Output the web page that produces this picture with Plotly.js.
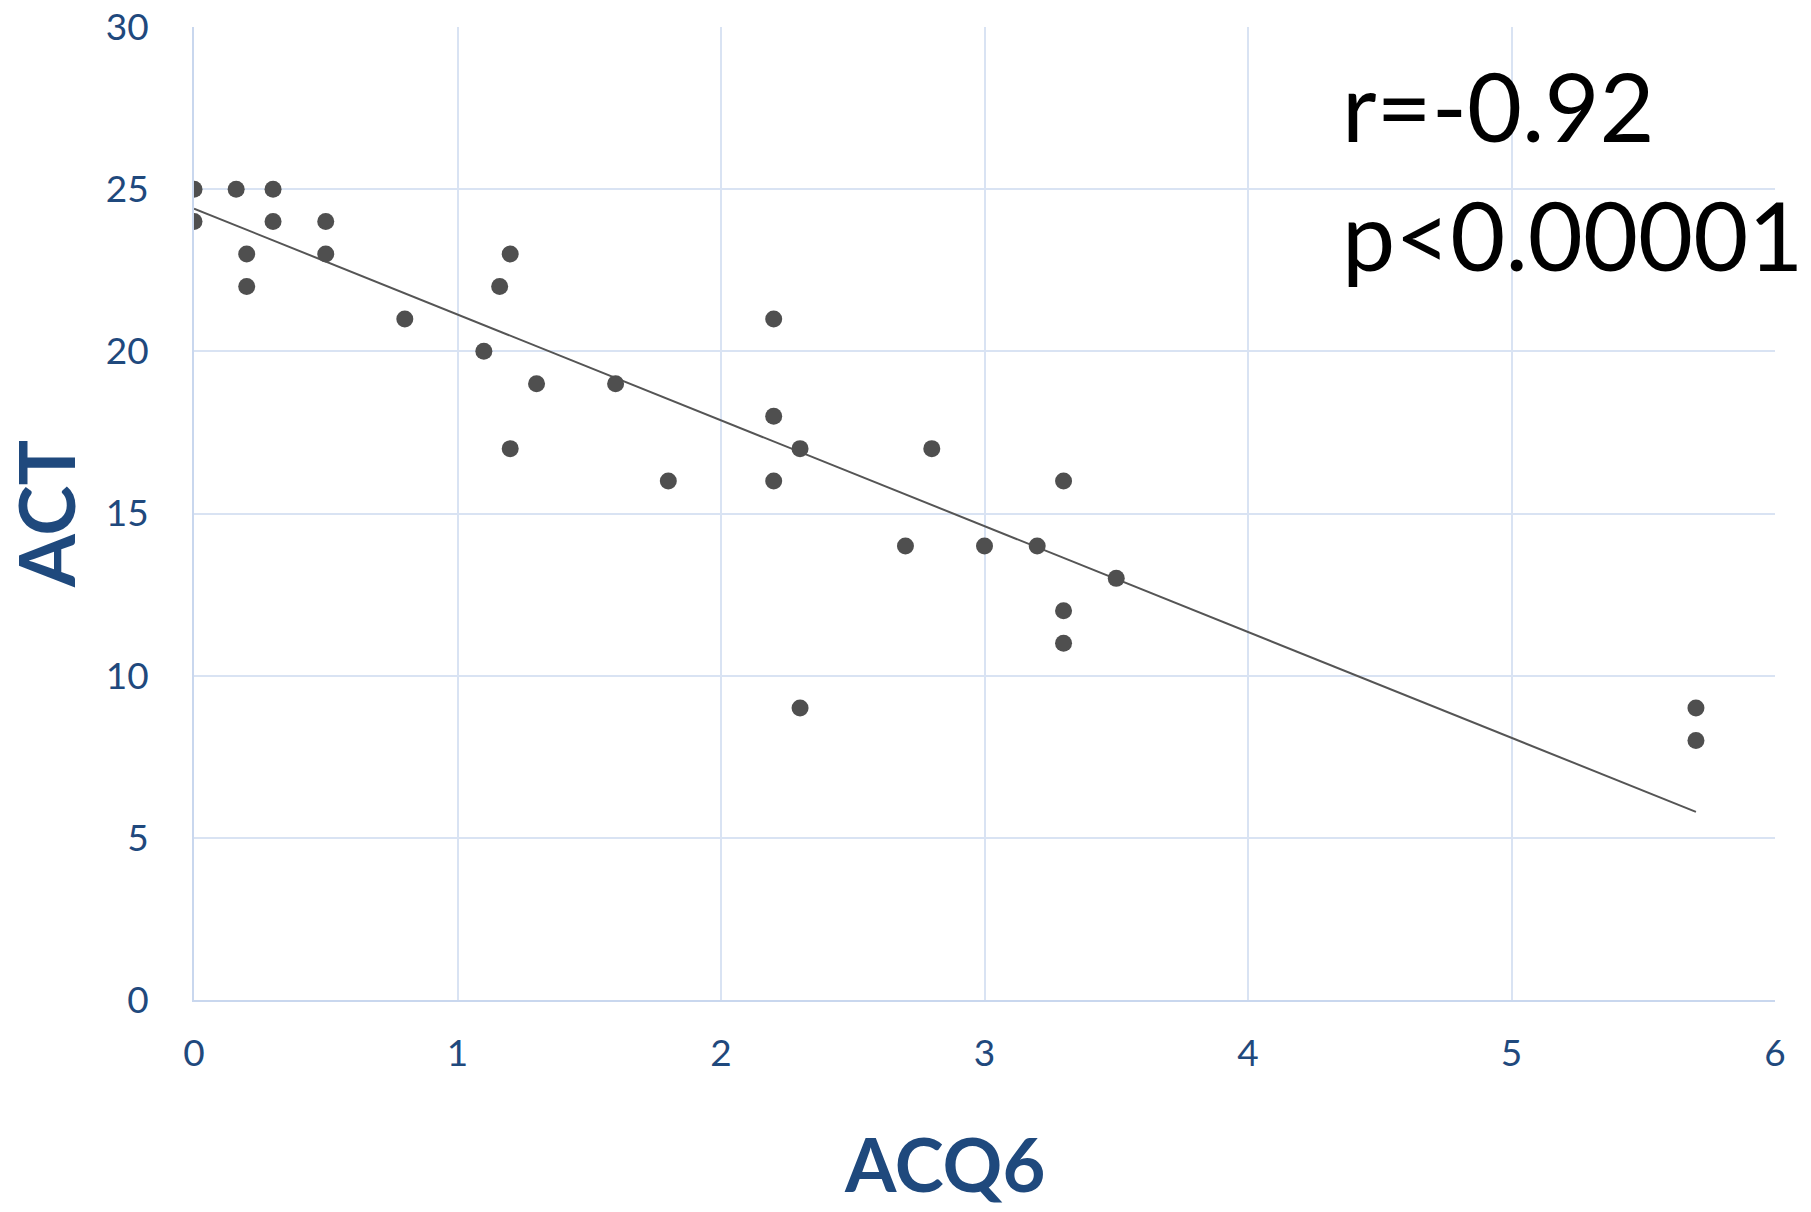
<!DOCTYPE html>
<html>
<head>
<meta charset="utf-8">
<script src="https://cdn.plot.ly/plotly-3.0.1.min.js"></script>
<style>html,body{margin:0;padding:0;background:#fff;}#chart{width:1811px;height:1212px;}</style>
</head>
<body>
<div id="chart"></div>
<script>
// ACQ6 (x) and ACT (y) values
const acq6 = [0, 0, 0.16, 0.3, 0.3, 0.2, 0.2, 0.5, 0.5, 0.8, 1.1, 1.16, 1.2, 1.2, 1.3, 1.6, 1.8, 2.2, 2.2, 2.2, 2.3, 2.3, 2.7, 2.8, 3.0, 3.2, 3.3, 3.3, 3.3, 3.5, 5.7, 5.7];
const act  = [25, 24, 25, 25, 24, 23, 22, 24, 23, 21, 20, 22, 23, 17, 19, 19, 16, 21, 18, 16, 17, 9, 14, 17, 14, 14, 16, 12, 11, 13, 9, 8];
// Linear trendline endpoints
const trendX = [0, 5.7];
const trendY = [24.4, 5.8];
const xTicks = [0, 1, 2, 3, 4, 5, 6];
const yTicks = [0, 5, 10, 15, 20, 25, 30];
const statLines = ["r=-0.92", "p<0.00001"];
const xTitle = "ACQ6";
const yTitle = "ACT";

const tickFont = {family: "Lato, 'Open Sans', sans-serif", size: 37, color: "#1F497D"};
const titleFont = {family: "Lato, 'Open Sans', sans-serif", size: 76, color: "#1F497D", weight: 700};
const xTitleFont = {family: "Lato, 'Open Sans', sans-serif", size: 74, color: "#1F497D", weight: 700};
const gridCol = "#D9E3F3";

const traces = [
  {x: trendX, y: trendY, type: "scatter", mode: "lines",
   line: {color: "#555555", width: 2}, hoverinfo: "skip", showlegend: false},
  {x: acq6, y: act, type: "scatter", mode: "markers",
   marker: {color: "#4F4F4F", size: 17}, showlegend: false}
];

const layout = {
  width: 1811, height: 1212,
  margin: {l: 194, r: 36, t: 27, b: 212},
  paper_bgcolor: "#ffffff", plot_bgcolor: "#ffffff",
  showlegend: false,
  xaxis: {
    range: [0, 6], tickvals: xTicks, ticktext: xTicks.map(String),
    showgrid: true, gridcolor: gridCol, gridwidth: 2,
    zeroline: false, showline: true, linecolor: "#C9D7EE", linewidth: 2, mirror: false,
    ticks: "", tickfont: tickFont, ticklabelstandoff: 20,
    fixedrange: true
  },
  yaxis: {
    range: [0, 30], tickvals: yTicks, ticktext: yTicks.map(String),
    showgrid: true, gridcolor: gridCol, gridwidth: 2,
    zeroline: false, showline: true, linecolor: "#C9D7EE", linewidth: 2,
    ticks: "", tickfont: tickFont, ticklabelstandoff: 36,
    title: {text: "<b>" + yTitle + "</b>", font: titleFont, standoff: 28},
    fixedrange: true
  },
  annotations: [
    {xref: "paper", yref: "paper", x: 0.475, y: -0.168, xanchor: "center", yanchor: "middle",
     text: "<b>" + xTitle + "</b>", showarrow: false, font: xTitleFont},
    {xref: "paper", yref: "paper", x: 0.725, y: 0.92, xanchor: "left", yanchor: "middle",
     text: statLines[0], showarrow: false,
     font: {family: "Lato, 'Open Sans', sans-serif", size: 95, color: "#000000"}},
    {xref: "paper", yref: "paper", x: 0.725, y: 0.787, xanchor: "left", yanchor: "middle",
     text: statLines[1], showarrow: false,
     font: {family: "Lato, 'Open Sans', sans-serif", size: 95, color: "#000000"}}
  ]
};

Plotly.newPlot("chart", traces, layout, {displayModeBar: false, staticPlot: true});
</script>
</body>
</html>
